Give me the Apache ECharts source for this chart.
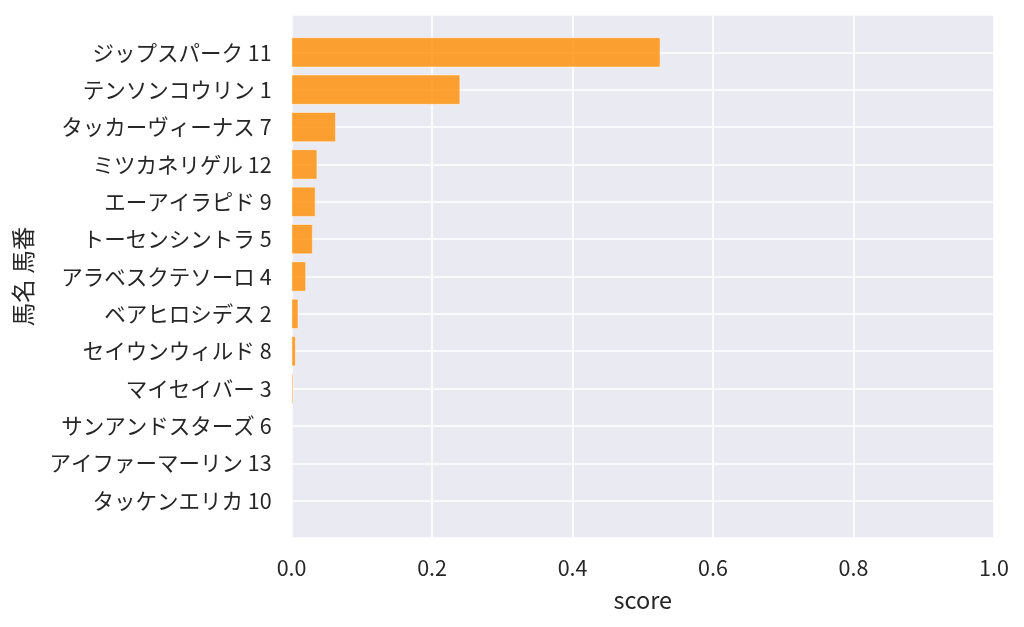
<!DOCTYPE html>
<html><head><meta charset="utf-8">
<script src="https://cdn.jsdelivr.net/npm/echarts@6/dist/echarts.min.js"></script>
<style>html,body{margin:0;padding:0;background:#fff}#c{width:1024px;height:627px}</style>
</head><body><div id="c"></div>
<script>
const horses = ["ジップスパーク 11","テンソンコウリン 1","タッカーヴィーナス 7","ミツカネリゲル 12","エーアイラピド 9","トーセンシントラ 5","アラベスクテソーロ 4","ベアヒロシデス 2","セイウンウィルド 8","マイセイバー 3","サンアンドスターズ 6","アイファーマーリン 13","タッケンエリカ 10"];
const scores = [0.525, 0.24, 0.063, 0.0365, 0.034, 0.030, 0.0205, 0.0095, 0.0058, 0.0022, 0.0006, 0.0004, 0.0003];
const xTicks = [0, 0.2, 0.4, 0.6, 0.8, 1.0];

const FONT = '"Noto Sans CJK JP", "Noto Sans", sans-serif';
const TXT = '#262626';
const L = 291.6, R = 1024 - 994, T = 15, B = 627 - 538;
const band = (538 - 15) / (horses.length + 1);

const chart = echarts.init(document.getElementById('c'));
chart.setOption({
  animation: false,
  textStyle: { fontFamily: FONT },
  grid: [
    { left: L, right: R, top: T, bottom: B, show: true, backgroundColor: '#EAEAF2', borderWidth: 0, containLabel: false },
    { left: L, right: R, top: T + band / 2, bottom: B + band / 2, containLabel: false }
  ],
  xAxis: [
    { type: 'value', gridIndex: 0, min: xTicks[0], max: xTicks[xTicks.length - 1], interval: 0.2,
      axisLine: { show: false }, axisTick: { show: false },
      axisLabel: { color: TXT, fontSize: 21.5, fontFamily: FONT, margin: 19, formatter: v => v.toFixed(1) },
      splitLine: { show: true, lineStyle: { color: '#ffffff', width: 1.6 } },
      name: 'score', nameLocation: 'middle', nameGap: 50,
      nameTextStyle: { color: TXT, fontSize: 23.5, fontFamily: FONT } },
    { type: 'value', gridIndex: 1, min: 0, max: 1, show: false }
  ],
  yAxis: [
    { type: 'value', gridIndex: 0, min: -1, max: horses.length, interval: 1, inverse: true,
      axisLine: { show: false }, axisTick: { show: false }, axisLabel: { show: false },
      splitLine: { show: true, lineStyle: { color: '#ffffff', width: 1.6 } } },
    { type: 'category', gridIndex: 1, data: horses, inverse: true,
      axisLine: { show: false }, axisTick: { show: false }, splitLine: { show: false },
      axisLabel: { color: TXT, fontSize: 21.5, fontFamily: FONT, margin: 20 },
      name: '馬名 馬番', nameLocation: 'middle', nameGap: 257, nameRotate: 90,
      nameTextStyle: { color: TXT, fontSize: 23.5, fontFamily: FONT } }
  ],
  series: [{
    type: 'bar', xAxisIndex: 1, yAxisIndex: 1, data: scores, barWidth: '80%',
    itemStyle: { color: 'rgba(255,140,0,0.8)', borderColor: 'rgba(255,255,255,0.8)', borderWidth: 0.6 }
  }]
});
</script></body></html>
